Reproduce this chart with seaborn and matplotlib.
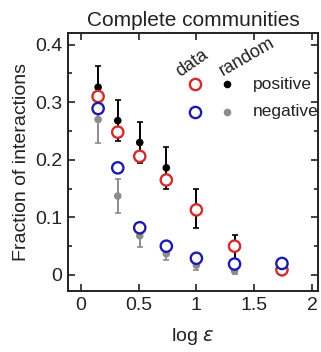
import numpy as np
import pandas as pd
import matplotlib
matplotlib.use("Agg")
import matplotlib.pyplot as plt
import seaborn as sns
from matplotlib.ticker import MultipleLocator, FuncFormatter

sns.set_theme(style="ticks")
plt.rcParams["font.family"] = ["Liberation Sans", "DejaVu Sans"]

# log epsilon bins
log_eps = [0.15, 0.32, 0.51, 0.74, 1.0, 1.33, 1.74]

# observed fractions
data_pos = [0.310, 0.248, 0.206, 0.165, 0.113, 0.050, 0.009]
data_neg = [0.289, 0.186, 0.082, 0.050, 0.029, 0.019, 0.020]

# randomized communities: mean and standard deviation
rand_pos = [0.326, 0.268, 0.230, 0.186, 0.115, 0.048, 0.008]
rand_pos_err = [0.036, 0.036, 0.036, 0.037, 0.034, 0.022, 0.004]
rand_neg = [0.270, 0.137, 0.068, 0.037, 0.017, 0.007, 0.004]
rand_neg_err = [0.041, 0.029, 0.019, 0.011, 0.008, 0.006, 0.003]

red = "#d42a2a"
blue = "#1c1caa"
grey = "#8c8c8c"
ink = "#222222"

df_data = pd.DataFrame({
    "x": log_eps * 2,
    "y": data_pos + data_neg,
    "kind": ["positive"] * len(log_eps) + ["negative"] * len(log_eps),
})
df_rand = pd.DataFrame({
    "x": log_eps * 2,
    "y": rand_pos + rand_neg,
    "err": rand_pos_err + rand_neg_err,
    "kind": ["positive"] * len(log_eps) + ["negative"] * len(log_eps),
})

fig = plt.figure(figsize=(3.21, 3.52), dpi=100)
ax = fig.add_axes([0.212, 0.173, 0.778, 0.733])

for kind, col in [("positive", "black"), ("negative", grey)]:
    sub = df_rand[df_rand.kind == kind]
    ax.errorbar(sub.x, sub.y, yerr=sub.err, fmt="none", ecolor=col,
                elinewidth=1.4, capsize=2.2, capthick=1.2, zorder=2)
sns.scatterplot(data=df_rand, x="x", y="y", hue="kind",
                palette={"positive": "black", "negative": grey},
                s=30, linewidth=0, legend=False, ax=ax, zorder=3)
sns.scatterplot(data=df_data, x="x", y="y", hue="kind",
                palette={"positive": red, "negative": blue},
                s=66, facecolor="white", legend=False, ax=ax, zorder=4)
# open circles: edge color by series
coll = ax.collections[-1]
cols = [red] * len(log_eps) + [blue] * len(log_eps)
coll.set_edgecolors(cols)
coll.set_facecolors("white")
coll.set_linewidths(1.7)

# key
ax.scatter([0.99], [0.331], s=66, facecolor="white", edgecolor=red, linewidth=1.7, zorder=5)
ax.scatter([0.99], [0.283], s=66, facecolor="white", edgecolor=blue, linewidth=1.7, zorder=5)
ax.scatter([1.265], [0.331], s=30, color="black", linewidth=0, zorder=5)
ax.scatter([1.265], [0.283], s=30, color=grey, linewidth=0, zorder=5)
ax.text(1.49, 0.331, "positive", fontsize=12.5, va="center", ha="left", color=ink)
ax.text(1.49, 0.283, "negative", fontsize=12.5, va="center", ha="left", color=ink)
ax.text(0.96, 0.367, "data", fontsize=13, rotation=35, ha="center", va="center", color=ink)
ax.text(1.44, 0.379, "random", fontsize=13, rotation=30, ha="center", va="center", color=ink)

ax.set_xlim(-0.11, 2.05)
ax.set_ylim(-0.028, 0.42)
ax.xaxis.set_major_locator(MultipleLocator(0.5))
ax.yaxis.set_major_locator(MultipleLocator(0.1))
ax.yaxis.set_minor_locator(MultipleLocator(0.05))
fmt = FuncFormatter(lambda v, p: f"{v:g}")
ax.xaxis.set_major_formatter(fmt)
ax.yaxis.set_major_formatter(fmt)
ax.tick_params(which="both", direction="in", top=True, right=True,
               labelsize=14, colors=ink, width=1.2)
ax.tick_params(which="major", length=5, pad=4)
ax.tick_params(which="minor", length=3)
for sp in ax.spines.values():
    sp.set_linewidth(1.4)
    sp.set_color(ink)

ax.set_xlabel(r"log $\it{\varepsilon}$", fontsize=14, color=ink, labelpad=9)
ax.set_ylabel("Fraction of interactions", fontsize=14, color=ink, labelpad=4)
ax.set_title("Complete communities", fontsize=15, color=ink, pad=5)

fig.savefig("out.png", dpi=100)
